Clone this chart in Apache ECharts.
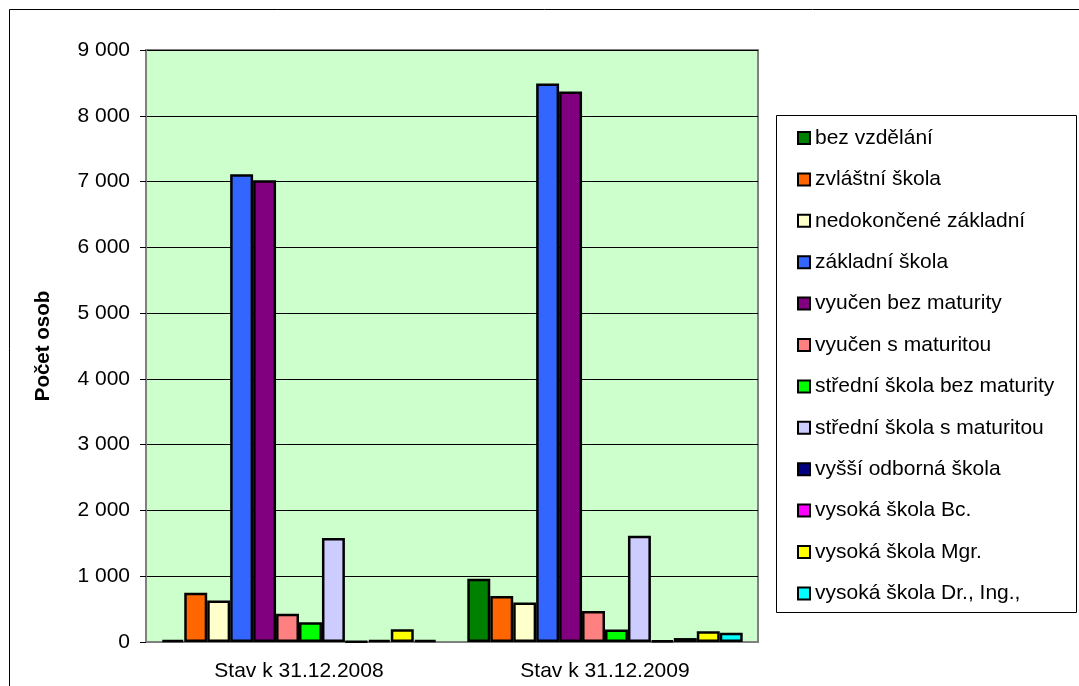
<!DOCTYPE html>
<html>
<head>
<meta charset="utf-8">
<script src="https://cdn.jsdelivr.net/npm/echarts@6/dist/echarts.min.js"></script>
<style>
	html, body { margin: 0; padding: 0; background: #fff; }
	#chart { width: 1079px; height: 686px; }
</style>
</head>
<body>
<div id="chart"></div>
<script>
// kategorie (osa x)
var categories = ['Stav k 31.12.2008', 'Stav k 31.12.2009'];
// názvy řad
var seriesNames = ['bez vzdělání', 'zvláštní škola', 'nedokončené základní', 'základní škola',
	'vyučen bez maturity', 'vyučen s maturitou', 'střední škola bez maturity', 'střední škola s maturitou',
	'vyšší odborná škola', 'vysoká škola Bc.', 'vysoká škola Mgr.', 'vysoká škola Dr., Ing.,'];
// hodnoty podle řad: [2008, 2009]
var bezVzdelani = [30, 960];
var zvlastniSkola = [750, 700];
var nedokoncene = [630, 600];
var zakladniSkola = [7110, 8490];
var vyucenBez = [7020, 8370];
var vyucenS = [430, 470];
var stredniBez = [300, 190];
var stredniS = [1580, 1615];
var vyssiOdborna = [10, 20];
var vysokaBc = [30, 60];
var vysokaMgr = [195, 165];
var vysokaDr = [30, 140];
var seriesValues = [bezVzdelani, zvlastniSkola, nedokoncene, zakladniSkola, vyucenBez, vyucenS,
	stredniBez, stredniS, vyssiOdborna, vysokaBc, vysokaMgr, vysokaDr];
var colors = ['#008000', '#FF6600', '#FFFFCC', '#3366FF', '#800080', '#FF8080',
	'#00FF00', '#CCCCFF', '#000080', '#FF00FF', '#FFFF00', '#00FFFF'];

var font = "'Liberation Sans', Arial, sans-serif";
var series = [];
for (var i = 0; i < seriesNames.length; i++) {
	series.push({
		name : seriesNames[i],
		type : 'bar',
		data : seriesValues[i],
		barGap : '0%',
		barCategoryGap : '10%',
		itemStyle : {
			color : colors[i],
			borderColor : '#000',
			borderWidth : 2.5
		}
	});
}

var chart = echarts.init(document.getElementById('chart'));
var option = {
	animation : false,
	color : colors,
	grid : {
		left : 146,
		top : 50,
		right : 321,
		bottom : 44,
		show : true,
		backgroundColor : '#CCFFCC',
		borderColor : '#808080',
		borderWidth : 2
	},
	legend : {
		orient : 'vertical',
		left : 797,
		top : 127,
		padding : 0,
		icon : 'rect',
		itemWidth : 12,
		itemHeight : 12,
		itemGap : 19.4,
		itemStyle : { borderColor : '#000', borderWidth : 2 },
		textStyle : { fontFamily : font, fontSize : 21, color : '#000', lineHeight : 22 },
		data : seriesNames
	},
	xAxis : {
		type : 'category',
		data : categories,
		axisLine : { lineStyle : { color : '#808080', width : 2 } },
		axisTick : { length : 6, lineStyle : { color : '#808080', width : 2 } },
		axisLabel : { fontFamily : font, fontSize : 21, color : '#000', margin : 19 }
	},
	yAxis : {
		type : 'value',
		min : 0,
		max : 9000,
		interval : 1000,
		name : 'Počet osob',
		nameLocation : 'middle',
		nameGap : 92,
		nameTextStyle : { fontFamily : font, fontSize : 20.5, fontWeight : 'bold', color : '#000' },
		axisLine : { show : true, lineStyle : { color : '#808080', width : 2 } },
		axisTick : { show : true, length : 6, lineStyle : { color : '#000' } },
		splitLine : { lineStyle : { color : '#000', width : 1 } },
		axisLabel : {
			fontFamily : font,
			fontSize : 21,
			color : '#000',
			margin : 16,
			formatter : function(v) {
				return String(v).replace(/\B(?=(\d{3})+(?!\d))/g, ' ');
			}
		}
	},
	graphic : [
		{
			type : 'rect',
			shape : { x : 9.5, y : 9.5, width : 1080, height : 700 },
			style : { fill : 'none', stroke : '#000', lineWidth : 1 },
			silent : true
		},
		{
			type : 'rect',
			shape : { x : 776.5, y : 115.5, width : 300, height : 497 },
			style : { fill : 'none', stroke : '#000', lineWidth : 1 },
			silent : true
		}
	],
	series : series
};
chart.setOption(option);
</script>
</body>
</html>
